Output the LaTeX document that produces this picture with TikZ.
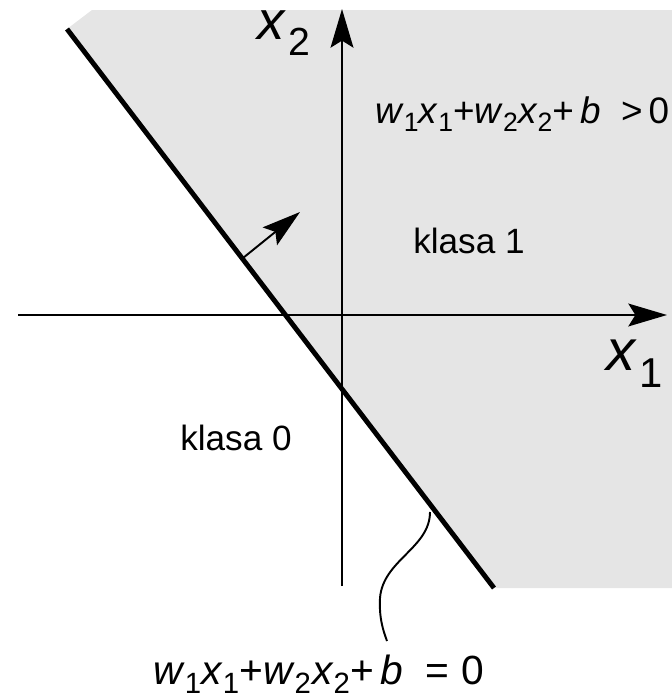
\documentclass[tikz,border=0pt]{standalone}
\usepackage{fontspec}
\setmainfont{Liberation Sans}
\usetikzlibrary{arrows.meta}

% lowered indices, smaller than the letter
\newcommand\ix[1]{\raisebox{-0.24em}{\scalebox{0.72}{#1}}}
\newcommand\ax[1]{\kern0.05em\raisebox{-0.3em}{\scalebox{0.72}{#1}}}

\begin{document}
\begin{tikzpicture}[
  x=0.02cm,y=-0.02cm,
  tip/.style={-{Stealth[length=22pt,width=13pt,inset=4pt]}},
  axis/.style={tip,line width=1.1pt},
  border/.style={line width=2.8pt},
  lbl/.style={inner sep=0pt,font=\fontsize{20}{24}\selectfont},
  eqlbl/.style={inner sep=0pt,anchor=base west},
  axlbl/.style={eqlbl,text height=0.55em}]
\useasboundingbox (0,0) rectangle (672,697);
% decision line end points
\coordinate (la) at (67,29);
\coordinate (lb) at (494,588);
% half plane of class 1
\fill[black!10] (la) -- (92,10) -- (672,10) -- (672,588) -- (lb) -- cycle;
% axes
\coordinate (xs) at (18,315);
\coordinate (xe) at (667,315);
\coordinate (ys) at (342,586);
\coordinate (ye) at (342,9);
\draw[axis] (xs) -- (xe);
\draw[axis] (ys) -- (ye);
\draw[border,line cap=butt] (la) -- (lb);
% normal vector
\coordinate (na) at (243,258);
\coordinate (nb) at (300,212);
\draw[tip,line width=1.1pt] (na) -- (nb);
% labels
\node[axlbl,font=\fontsize{31}{36}\selectfont] (x2) at (257,39) {\textit{x}\ax{2}};
\node[axlbl,font=\fontsize{33}{38}\selectfont] (x1) at (606,370) {\textit{x}\ax{1}};
\node[lbl] (k1) at (469,241) {klasa 1};
\node[lbl] (k0) at (236,438) {klasa 0};
\node[eqlbl,font=\fontsize{21}{26}\selectfont] (gt) at (375,123)
  {\textit{w}\ix{1}\textit{x}\ix{1}+\textit{w}\ix{2}\textit{x}\ix{2}+\,\textit{b}\ \ >\,0};
\node[eqlbl,font=\fontsize{23.2}{28}\selectfont] (eq) at (153,684)
  {\textit{w}\ix{1}\textit{x}\ix{1}+\textit{w}\ix{2}\kern0.03em\textit{x}\ix{2}+\,\textit{b}\ \ =\ 0};
% pointer to the line
\coordinate (wa) at (430,512);
\coordinate (wb) at (387,641);
\draw[line width=1.1pt] (wa) .. controls (430,548) and (383,560) .. (380,598)
  .. controls (379,618) and (383,630) .. (wb);
\end{tikzpicture}
\end{document}
